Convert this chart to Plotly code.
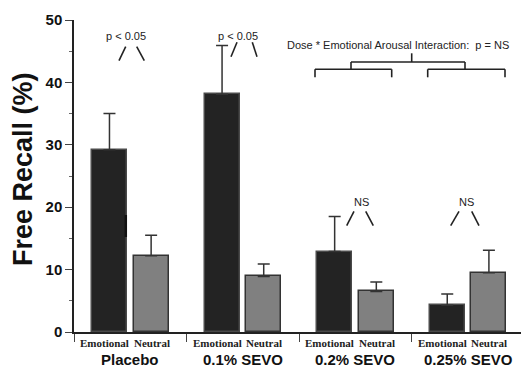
import plotly.graph_objects as go

groups = ["Placebo", "0.1% SEVO", "0.2% SEVO", "0.25% SEVO"]
conditions = ["Emotional", "Neutral"]
emotional = [29.2, 38.1, 12.9, 4.3]
emotional_err = [5.8, 7.8, 5.6, 1.8]
neutral = [12.2, 8.9, 6.5, 9.5]
neutral_err = [3.3, 2.0, 1.5, 3.6]
sig_labels = ["p < 0.05", "p < 0.05", "NS", "NS"]
y_ticks = [0, 10, 20, 30, 40, 50]

W, H = 521, 368
L, T, B = 74, 20, 36
X0, XR = -0.5, 3.47
PPU_X = (W - L) / (XR - X0)
PPU_Y = (H - T - B) / 50.0


def px2x(px):
    return (px - L) / PPU_X + X0


def py2y(py):
    return (H - B - py) / PPU_Y


def py2paper(py):
    return (H - B - py) / (H - T - B)


OFF = 0.185
BW = 0.31
gx = list(range(len(groups)))

fig = go.Figure()
fig.add_trace(go.Bar(
    x=[g - OFF for g in gx], y=emotional, width=BW, name=conditions[0],
    marker=dict(color="#232323", line=dict(color="#4a4a4a", width=1.5)),
    error_y=dict(type="data", array=emotional_err, arrayminus=[0] * 4,
                 symmetric=False, color="#333333", thickness=1.5, width=6),
))
fig.add_trace(go.Bar(
    x=[g + OFF for g in gx], y=neutral, width=BW, name=conditions[1],
    marker=dict(color="#808080", line=dict(color="#333333", width=1.5)),
    error_y=dict(type="data", array=neutral_err, arrayminus=[0] * 4,
                 symmetric=False, color="#333333", thickness=1.5, width=6),
))

ann = []
lab_font = dict(family="Liberation Serif", size=11, color="#222", weight="bold")
grp_font = dict(family="Liberation Sans", size=15, color="#111", weight="bold")
for g in gx:
    ann.append(dict(x=g - 0.228, y=py2paper(343), xref="x", yref="paper",
                    xanchor="center", yanchor="middle",
                    text=conditions[0], showarrow=False, font=lab_font))
    ann.append(dict(x=g + 0.19, y=py2paper(343), xref="x", yref="paper",
                    xanchor="center", yanchor="middle",
                    text=conditions[1], showarrow=False, font=lab_font))
    ann.append(dict(x=g, y=py2paper(360), xref="x", yref="paper",
                    xanchor="center", yanchor="middle",
                    text=groups[g], showarrow=False, font=grp_font))

small = dict(family="Liberation Sans", size=11, color="#222")
sig_pos = [(126, 36), (238, 36), (361, 202), (466, 202)]
for lab, (px, py) in zip(sig_labels, sig_pos):
    ann.append(dict(x=px2x(px), y=py2y(py), xref="x", yref="y", text=lab,
                    xanchor="center", yanchor="middle",
                    showarrow=False, font=small))
ann.append(dict(x=px2x(397.5), y=py2y(45), xref="x", yref="y",
                xanchor="center", yanchor="middle",
                text="Dose * Emotional Arousal Interaction:  p = NS",
                showarrow=False, font=small))
ann.append(dict(x=-(L - 23) / (W - L), y=py2paper(169), xref="paper", yref="paper",
                xanchor="center", yanchor="middle",
                text="<b>Free Recall (%)</b>", textangle=-90, showarrow=False,
                font=dict(family="Liberation Sans", size=27, color="#111")))

shapes = []
line = dict(color="#222", width=1.6)
slashes = [
    ((119, 60.7), (125.7, 46.7)), ((136.7, 46.7), (144.3, 60.7)),
    ((231, 56.7), (237, 42.3)), ((252.3, 42.3), (257, 56.7)),
    ((346.7, 225.7), (354, 211.3)), ((365.7, 211.3), (373.3, 225.7)),
    ((450.7, 225.7), (459, 211.3)), ((471.7, 211.3), (479, 225.7)),
]
segs = slashes + [
    ((351, 62), (465, 62)), ((411.7, 53.3), (411.7, 62)),
    ((351, 62), (351, 69.3)), ((465, 62), (465, 69.3)),
    ((315, 69.3), (391.7, 69.3)), ((315, 69.3), (315, 77.3)), ((391.7, 69.3), (391.7, 77.3)),
    ((427.7, 69.3), (505, 69.3)), ((427.7, 69.3), (427.7, 77.3)), ((505, 69.3), (505, 77.3)),
]
for (a, b) in segs:
    shapes.append(dict(type="line", xref="x", yref="y", x0=px2x(a[0]), y0=py2y(a[1]),
                       x1=px2x(b[0]), y1=py2y(b[1]), line=line))
# small dark artifact on right edge of the placebo emotional bar
shapes.append(dict(type="line", xref="x", yref="y", x0=0 - OFF + BW / 2 - 0.01, x1=0 - OFF + BW / 2 - 0.01,
                   y0=py2y(237), y1=py2y(215), line=dict(color="#111", width=2.5)))

fig.update_layout(
    width=W, height=H, margin=dict(l=L, r=0, t=T, b=B, autoexpand=False),
    paper_bgcolor="white", plot_bgcolor="white", showlegend=False,
    bargap=0, annotations=ann, shapes=shapes,
    xaxis=dict(range=[X0, XR], showgrid=False, zeroline=False, showline=True,
               linecolor="#222", linewidth=1.5, tickmode="array",
               tickvals=[-0.5, 0.5, 1.5, 2.5, 3.5], ticks="outside", ticklen=8,
               tickwidth=1.2, tickcolor="#444", showticklabels=False),
    yaxis=dict(range=[0, 50], showgrid=False, zeroline=False, showline=True,
               linecolor="#222", linewidth=1.5, tickmode="array", tickvals=y_ticks,
               ticks="outside", ticklen=7, tickwidth=1.2, tickcolor="#444",
               tickfont=dict(family="Liberation Sans", size=15, color="#111", weight="bold"),
               minor=dict(dtick=5, ticks="outside", ticklen=3, tickcolor="#666", tickwidth=1)),
)

fig.write_html("out.html", config={"displayModeBar": False},
               post_script="document.body.style.margin='0px';document.body.style.overflow='hidden';")
